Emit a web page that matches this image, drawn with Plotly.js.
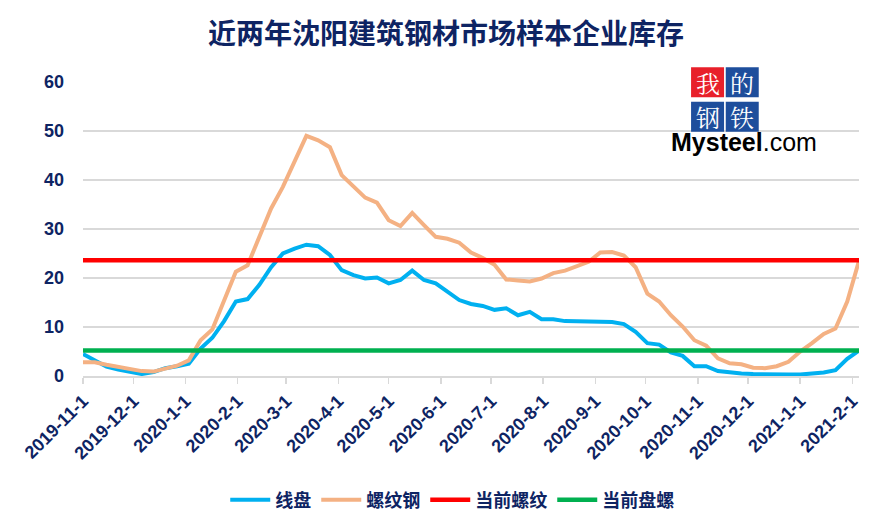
<!DOCTYPE html>
<html>
<head>
<meta charset="utf-8">
<script src="https://cdn.plot.ly/plotly-3.0.1.min.js"></script>
<style>html,body{margin:0;padding:0;background:#fff;}#chart{width:892px;height:528px;}</style>
</head>
<body>
<div id="chart"></div>
<script>
var dates = ["2019-11-01","2019-11-08","2019-11-15","2019-11-22","2019-11-29","2019-12-06","2019-12-13","2019-12-20","2019-12-27",
"2020-01-03","2020-01-10","2020-01-17","2020-01-24","2020-01-31","2020-02-07","2020-02-14","2020-02-21","2020-02-28",
"2020-03-06","2020-03-13","2020-03-20","2020-03-27","2020-04-03","2020-04-10","2020-04-17","2020-04-24",
"2020-05-01","2020-05-08","2020-05-15","2020-05-22","2020-05-29","2020-06-05","2020-06-12","2020-06-19","2020-06-26",
"2020-07-03","2020-07-10","2020-07-17","2020-07-24","2020-07-31","2020-08-07","2020-08-14","2020-08-21","2020-08-28",
"2020-09-04","2020-09-11","2020-09-18","2020-09-25","2020-10-02","2020-10-09","2020-10-16","2020-10-23","2020-10-30",
"2020-11-06","2020-11-13","2020-11-20","2020-11-27","2020-12-04","2020-12-11","2020-12-18","2020-12-25",
"2021-01-01","2021-01-08","2021-01-15","2021-01-22","2021-01-29","2021-02-05"];

var wireRod = [4.5,3.2,1.9,1.3,0.8,0.4,0.8,1.6,2.0,
2.5,5.6,7.8,11.2,15.2,15.7,18.6,22.2,25.0,
26.0,26.8,26.5,24.7,21.6,20.6,19.9,20.1,
18.9,19.6,21.5,19.6,18.9,17.3,15.5,14.7,14.3,
13.5,13.8,12.4,13.1,11.6,11.6,11.2,11.2,11.1,
11.0,11.0,10.6,9.0,6.7,6.4,4.8,4.1,2.0,
2.0,1.0,0.7,0.5,0.4,0.3,0.3,0.3,
0.3,0.5,0.7,1.2,3.5,5.2];

var rebar = [2.8,2.8,2.3,1.8,1.5,1.0,0.9,1.5,2.1,
3.2,7.3,9.5,15.5,21.3,22.6,28.2,34.2,38.6,
43.6,49.0,48.1,46.7,41.0,38.6,36.4,35.4,
31.8,30.6,33.3,30.8,28.4,28.0,27.2,25.2,24.1,
22.7,19.7,19.5,19.3,19.9,21.0,21.5,22.5,23.3,
25.2,25.3,24.6,22.2,16.8,15.2,12.4,10.1,7.3,
6.2,3.6,2.6,2.4,1.7,1.6,2.0,2.9,
5.0,6.7,8.6,9.7,15.2,23.5];

var currentRebarDates = ["2019-11-01","2021-02-05"];
var currentRebar = [23.6, 23.6];
var currentCoilDates = ["2019-11-01","2021-02-05"];
var currentCoil = [5.2, 5.2];

var seriesNames = ["线盘","螺纹钢","当前螺纹","当前盘螺"];
var tickDates = ["2019-11-01","2019-12-01","2020-01-01","2020-02-01","2020-03-01","2020-04-01","2020-05-01","2020-06-01",
"2020-07-01","2020-08-01","2020-09-01","2020-10-01","2020-11-01","2020-12-01","2021-01-01","2021-02-01"];
var tickLabels = ["2019-11-1","2019-12-1","2020-1-1","2020-2-1","2020-3-1","2020-4-1","2020-5-1","2020-6-1",
"2020-7-1","2020-8-1","2020-9-1","2020-10-1","2020-11-1","2020-12-1","2021-1-1","2021-2-1"];

var navy = "#0E2463";
var fontFam = "Liberation Sans, Noto Sans CJK SC, sans-serif";
var cjkFam = "Noto Sans CJK SC, sans-serif";

var traces = [
  {x: dates, y: wireRod, name: seriesNames[0], type: "scatter", mode: "lines", line: {color: "#00B0F0", width: 4}},
  {x: dates, y: rebar, name: seriesNames[1], type: "scatter", mode: "lines", line: {color: "#F4B183", width: 4}},
  {x: currentRebarDates, y: currentRebar, name: seriesNames[2], type: "scatter", mode: "lines", line: {color: "#FF0000", width: 4.5}},
  {x: currentCoilDates, y: currentCoil, name: seriesNames[3], type: "scatter", mode: "lines", line: {color: "#00B050", width: 4.5}}
];

// logo geometry helpers (pixel -> paper)
var L = 82.7, R = 859, T = 82, B = 376;
function px(x){ return (x - L) / (R - L); }
function py(y){ return (B - y) / (B - T); }

var shapes = [
  {type:"rect", xref:"paper", yref:"paper", x0:px(687), x1:px(763), y0:py(135), y1:py(64), fillcolor:"#ffffff", line:{width:0}, layer:"below"},
  {type:"rect", xref:"paper", yref:"paper", x0:px(691), x1:px(724), y0:py(97.3), y1:py(67.3), fillcolor:"#E8202A", line:{width:0}},
  {type:"rect", xref:"paper", yref:"paper", x0:px(725.7), x1:px(758.7), y0:py(97.3), y1:py(67.3), fillcolor:"#1E4E9C", line:{width:0}},
  {type:"rect", xref:"paper", yref:"paper", x0:px(691), x1:px(724), y0:py(131.7), y1:py(101.7), fillcolor:"#1E4E9C", line:{width:0}},
  {type:"rect", xref:"paper", yref:"paper", x0:px(725.7), x1:px(758.7), y0:py(131.7), y1:py(101.7), fillcolor:"#1E4E9C", line:{width:0}}
];

function logoChar(t, cx, cy){
  return {text:t, xref:"paper", yref:"paper", x:px(cx), y:py(cy), xanchor:"center", yanchor:"middle",
          showarrow:false, borderpad:0, font:{family:"Noto Serif CJK SC, Noto Sans CJK SC, serif", size:24, color:"#ffffff"}};
}
var annotations = [
  logoChar("我", 707.5, 82.3),
  logoChar("的", 742.2, 82.3),
  logoChar("钢", 707.5, 116.7),
  logoChar("铁", 742.2, 116.7),
  {text:"<b>Mysteel</b>.com", xref:"paper", yref:"paper", x:px(744), y:py(157), xanchor:"center", yanchor:"bottom",
   showarrow:false, borderpad:0, font:{family:"Liberation Sans, Arial, sans-serif", size:25, color:"#000000"}}
];

var layout = {
  width: 892, height: 528,
  paper_bgcolor: "#ffffff", plot_bgcolor: "#ffffff",
  margin: {l: L, r: 892 - R, t: T, b: 528 - B},
  title: {text: "<b>近两年沈阳建筑钢材市场样本企业库存</b>", x: 0.5, xref: "container", y: 1 - 34/528, yref: "container",
          xanchor: "center", yanchor: "middle", font: {family: cjkFam, size: 28, color: navy}},
  xaxis: {type: "date", range: ["2019-11-01", "2021-02-05"], tickvals: tickDates, ticktext: tickLabels,
          tickangle: -45, ticks: "outside", ticklen: 6, tickwidth: 1.5, tickcolor: "#D9D9D9",
          showgrid: false, showline: true, linecolor: "#D9D9D9", linewidth: 1.5, zeroline: false,
          tickfont: {family: fontFam, size: 18, color: navy, weight: "bold"}, fixedrange: true},
  yaxis: {range: [0, 60], dtick: 10, tick0: 0, showgrid: true, gridcolor: "#D9D9D9", gridwidth: 1.5,
          zeroline: false, showline: false, ticks: "", ticklabelstandoff: 18,
          tickfont: {family: fontFam, size: 18, color: navy, weight: "bold"}, fixedrange: true},
  showlegend: true,
  legend: {orientation: "h", x: 0.507, xref: "container", xanchor: "center", y: 1 - 500/528, yref: "container", yanchor: "middle",
           font: {family: cjkFam, size: 18, color: navy, weight: "bold"}, itemwidth: 40, traceorder: "normal", bgcolor: "rgba(0,0,0,0)"},
  shapes: shapes,
  annotations: annotations
};

Plotly.newPlot("chart", traces, layout, {displayModeBar: false, staticPlot: true});
</script>
</body>
</html>
